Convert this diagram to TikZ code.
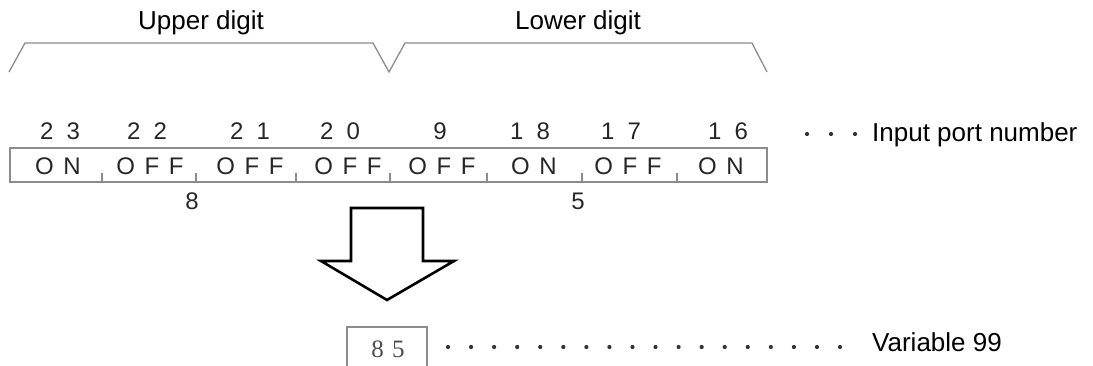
\documentclass[tikz,border=0pt]{standalone}
\usepackage{fontspec}
\setmainfont{Liberation Sans}
\newfontfamily\switchfont{Liberation Sans}[LetterSpace=40]
\newfontfamily\portfont{Liberation Sans}[LetterSpace=55]
\newfontfamily\valfont{Liberation Serif}
\usetikzlibrary{positioning}

\begin{document}
\begin{tikzpicture}[
  x=1pt, y=-1pt,
  label/.style={
    font=\fontsize{26}{28}\selectfont, inner sep=0pt, anchor=base
  },
  portnum/.style={
    font=\portfont\fontsize{24}{26}\selectfont, text=black!85, inner sep=0pt, anchor=base
  },
  state/.style={
    font=\switchfont\fontsize{24}{26}\selectfont, text=black!85, inner sep=0pt, anchor=base
  },
  frame/.style={
    draw=black!45, line width=1.3pt
  },
  brace/.style={
    draw=black!45, line width=1.3pt, line join=miter
  },
  bigarrow/.style={
    draw=black, line width=2.6pt, line join=miter
  },
  leader/.style={
    fill=black!80, circle, inner sep=0pt, minimum size=4.2pt
  }
]
\useasboundingbox (0,0) rectangle (1093,366);
\clip (0,0) rectangle (1093,366);

% geometry
\def\boxtop{148}      % top of switch row
\def\boxbot{182}      % bottom of switch row
\def\tickh{9}         % height of cell ticks

% digit braces
\draw[brace] (9,72) -- (25,43) -- (373,43) -- (389,72)
             -- (405,43) -- (752,43) -- (767,72);
\node[label] (upper) at (201,30) {Upper digit};
\node[label] (lower) at (578,30) {Lower digit};

% switch row
\draw[frame] (10,\boxtop) rectangle (767,\boxbot);
\foreach \tx in {102,196,296,390,487,582,677}
  \draw[frame] (\tx,\boxbot) -- ++(0,-\tickh);

% port numbers and states
\foreach \nx/\num/\sx/\st [count=\i] in
  {60/23/58/ON, 147/22/150/OFF, 250/21/250/OFF, 340/20/348/OFF,
   440/9/442/OFF, 530/18/534/ON, 621/17/628/OFF, 728/16/721/ON}
{
  \node[portnum] (p\i) at (\nx,140) {\num};
  \node[state] (s\i) at (\sx,175) {\st};
}

% digit values
\node[portnum] (hi) at (192,210) {8};
\node[portnum] (lo) at (578,210) {5};

% legend for port numbers
\foreach \dx [count=\i] in {807,831,855}
  \node[leader] (pd\i) at (\dx,134) {};
\node[label, anchor=base west] (portlbl) at (872,142) {Input port number};

% conversion arrow
\draw[bigarrow] (351,208) -- (423,208) -- (423,261) -- (454,261)
                -- (387,300) -- (321,261) -- (351,261) -- cycle;

% result variable
\draw[frame] (347,380) -- (347,327) -- (427,327) -- (427,380);
\node[font=\valfont\fontsize{25}{27}\selectfont, text=black!70, inner sep=0pt, anchor=base]
  (val) at (388,357) {8\,\,5};
\foreach \k in {0,...,17}
  \node[leader] (vd\k) at ({448+23.06*\k},347) {};
\node[label, anchor=base west] (varlbl) at (872,352) {Variable 99};

\end{tikzpicture}
\end{document}
